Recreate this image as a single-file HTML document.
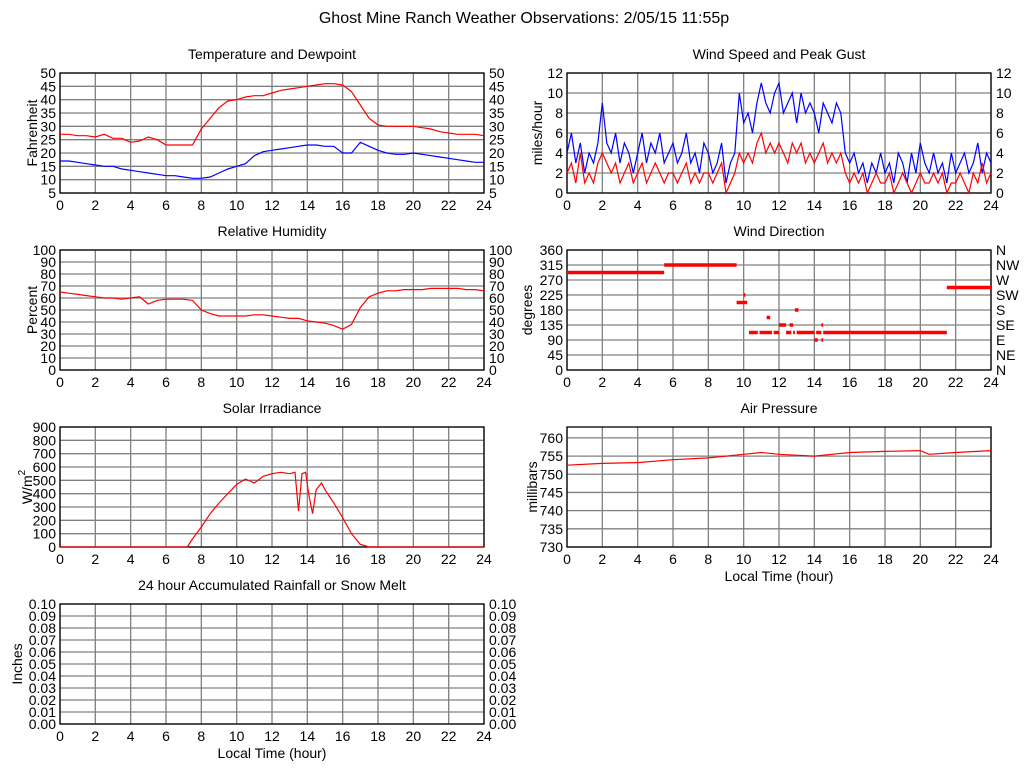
<!DOCTYPE html>
<html><head><meta charset="utf-8">
<style>
html,body{margin:0;padding:0;background:#fff;}
svg{display:block;font-family:"Liberation Sans",sans-serif;}
</style></head>
<body>
<svg id="c" width="1024" height="768" viewBox="0 0 1024 768">
<text x="524" y="23" font-size="16" text-anchor="middle">Ghost Mine Ranch Weather Observations: 2/05/15 11:55p</text>
</svg>
<script>
// ---- data ----
const xTicks = [0,2,4,6,8,10,12,14,16,18,20,22,24];
const halfHours = Array.from({length:49},(_,i)=>i*0.5);
const tempF = [27,27,26.5,26.5,26,27,25.5,25.5,24,24.5,26,25,23,23,23,23,29,33,37,39.5,40,41,41.5,41.5,42.5,43.5,44,44.5,45,45.5,46,46,45.5,43,38,33,30.5,30,30,30,30,29.5,29,28,27.5,27,27,27,26.5];
const dewF = [17,17,16.5,16,15.5,15,15,14,13.5,13,12.5,12,11.5,11.5,11,10.5,10.5,11,12.5,14,15,16,19,20.5,21,21.5,22,22.5,23,23,22.5,22.5,20,20,24,22.5,21,20,19.5,19.5,20,19.5,19,18.5,18,17.5,17,16.5,16.5];
const rhPct = [65,64,63,62,61,60,60,59,60,61,55,58,59,59,59,58,50,47,45,45,45,45,46,46,45,44,43,43,41,40,39,37,34,38,52,61,64,66,66,67,67,67,68,68,68,68,67,67,66];
const quarterHours = Array.from({length:97},(_,i)=>i*0.25);
const gustMph = [4,6,3,5, 2,4,3,5, 9,5,4,6, 3,5,4,2, 4,6,3,5, 4,6,3,4, 5,3,4,6, 3,4,2,5, 4,2,3,5, 1,3,4,10, 7,8,6,9, 11,9,8,10, 11,8,9,10, 7,10,8,9, 8,6,9,8, 7,9,8,4, 3,4,2,3, 1,3,2,4, 2,3,1,4, 3,1,4,2, 5,3,2,4, 2,3,1,4, 2,3,4,2, 3,5,2,4, 3];
const speedMph = [2,3,1,4, 1,2,1,3, 4,3,2,3, 1,2,3,1, 2,3,1,2, 3,2,1,2, 2,1,2,3, 1,2,1,2, 2,1,2,3, 0,1,2,4, 3,4,3,5, 6,4,5,4, 5,4,3,5, 4,5,3,4, 3,4,5,3, 4,3,4,2, 1,2,1,2, 0,1,2,1, 1,2,0,1, 2,1,0,1, 2,1,1,2, 1,2,0,1, 1,2,1,0, 2,1,3,1, 2];
const dirStart = [0,5.5,9.6,10.0,10.3,10.9,11.3,11.7,12.0,12.4,12.6,12.8,12.9,13.0,14.0,14.1,14.4,14.4,14.5,21.5];
const dirEnd   = [5.5,9.6,10.2,10.1,10.8,11.6,11.5,12.0,12.4,12.7,12.8,12.9,13.1,14.0,14.2,14.4,14.5,14.5,21.5,24];
const dirDeg   = [292.5,315,202.5,225,112.5,112.5,157.5,112.5,135,112.5,135,112.5,180,112.5,90,112.5,135,90,112.5,247.5];
const solarT = [0,7.2,7.5,8,8.5,9,9.5,10,10.5,11,11.5,12,12.5,13,13.3,13.5,13.7,13.9,14.1,14.3,14.5,14.8,15,15.5,16,16.5,17,17.5,24];
const solarW = [0,0,60,150,250,330,400,470,510,480,530,550,560,550,560,270,550,560,380,250,430,480,430,330,220,100,20,0,0];
const presT = [0,2,4,6,8,10,11,12,14,15,16,18,20,20.5,22,24];
const presMb = [752.5,753,753.2,754,754.5,755.5,756,755.5,755,755.5,756,756.3,756.5,755.5,756,756.5];
const tempTicks=[5,10,15,20,25,30,35,40,45,50];
const windTicks=[0,2,4,6,8,10,12];
const rhTicks=[0,10,20,30,40,50,60,70,80,90,100];
const dirTicks=[0,45,90,135,180,225,270,315,360];
const dirLabels=['N','NE','E','SE','S','SW','W','NW','N'];
const solarTicks=[0,100,200,300,400,500,600,700,800,900];
const presTicks=[730,735,740,745,750,755,760];
const rainTicks=[0,0.01,0.02,0.03,0.04,0.05,0.06,0.07,0.08,0.09,0.10];

const svg=document.getElementById('c');
const NS='http://www.w3.org/2000/svg';
function mk(tag,attrs,parent){const e=document.createElementNS(NS,tag);for(const k in attrs)e.setAttribute(k,attrs[k]);(parent||svg).appendChild(e);return e;}
function txt(x,y,s,anchor,parent,size){const t=mk('text',{x:x,y:y,'font-size':size||14,'text-anchor':anchor||'start'},parent);t.textContent=s;return t;}

function panel(name,L,T,W,H,ymin,ymax,yt,opts){
  const g=mk('g',{});
  
  
  const sx=v=>L+v/24*W, sy=v=>T+H-(v-ymin)/(ymax-ymin)*H;
  xTicks.forEach(v=>{const l=mk('line',{x1:sx(v),x2:sx(v),y1:T,y2:T+H,stroke:'#808080','stroke-width':1.3},g);
    
    const t=txt(sx(v),T+H+17,String(v),'middle',g);});
  yt.forEach((v,i)=>{const l=mk('line',{x1:L,x2:L+W,y1:sy(v),y2:sy(v),stroke:'#808080','stroke-width':1.3},g);
    
    const lab=opts.fmt?opts.fmt(v):String(v);
    const t=txt(L-4,sy(v)+5,lab,'end',g);
    if(opts.right){const r=txt(L+W+5,sy(v)+5,opts.rightLabels?opts.rightLabels[i]:lab,'start',g);
      }});
  const b=mk('rect',{x:L,y:T,width:W,height:H,fill:'none',stroke:'#000','stroke-width':1.3},g);
  
  const tt=txt(L+W/2,T-14,opts.title,'middle',g);
  const yl=mk('text',{x:0,y:0,'font-size':14,'text-anchor':'middle',transform:`translate(${opts.ylx},${T+H/2}) rotate(-90)`},g);
  yl.textContent=opts.ylabel;
  if(opts.sup){const s=mk('tspan',{dy:-7,'font-size':10},yl);s.textContent=opts.sup;}
  
  if(opts.xlabel){const x=txt(L+W/2,T+H+34,'Local Time (hour)','middle',g);}
  return {g,sx,sy};
}
function line(p,xs,ys,color,name){
  const d=xs.map((x,i)=>(i?'L':'M')+p.sx(x).toFixed(1)+' '+p.sy(ys[i]).toFixed(1)).join(' ');
  const e=mk('path',{d:d,fill:'none',stroke:color,'stroke-width':1.2},p.g);
  
}

const p1=panel('temperature',60,73,424,120,5,50,tempTicks,{title:'Temperature and Dewpoint',ylabel:'Fahrenheit',ylx:37,right:true});
line(p1,halfHours,dewF,'#0000ff','dewpoint-line');
line(p1,halfHours,tempF,'#ff0000','temperature-line');

const p2=panel('wind-speed',567,73,424,120,0,12,windTicks,{title:'Wind Speed and Peak Gust',ylabel:'miles/hour',ylx:542,right:true});
line(p2,quarterHours,gustMph,'#0000ff','peak-gust-line');
line(p2,quarterHours,speedMph,'#ff0000','wind-speed-line');

const p3=panel('humidity',60,250,424,120,0,100,rhTicks,{title:'Relative Humidity',ylabel:'Percent',ylx:37,right:true});
line(p3,halfHours,rhPct,'#ff0000','humidity-line');

const p4=panel('wind-direction',567,250,424,120,0,360,dirTicks,{title:'Wind Direction',ylabel:'degrees',ylx:532,right:true,rightLabels:dirLabels});
dirDeg.forEach((d,i)=>{const l=mk('line',{x1:p4.sx(dirStart[i]),x2:p4.sx(dirEnd[i]),y1:p4.sy(d),y2:p4.sy(d),stroke:'#ff0000','stroke-width':3.5},p4.g);
  });

const p5=panel('solar',60,427,424,120,0,900,solarTicks,{title:'Solar Irradiance',ylabel:'W/m',sup:'2',ylx:32});
line(p5,solarT,solarW,'#ff0000','solar-line');

const p6=panel('pressure',567,427,424,120,730,763,presTicks,{title:'Air Pressure',ylabel:'millibars',ylx:537,xlabel:true});
line(p6,presT,presMb,'#ff0000','pressure-line');

const p7=panel('rainfall',60,604,424,120,0,0.10,rainTicks,{title:'24 hour Accumulated Rainfall or Snow Melt',ylabel:'Inches',ylx:22,right:true,xlabel:true,fmt:v=>v.toFixed(2)});
</script>
</body></html>
